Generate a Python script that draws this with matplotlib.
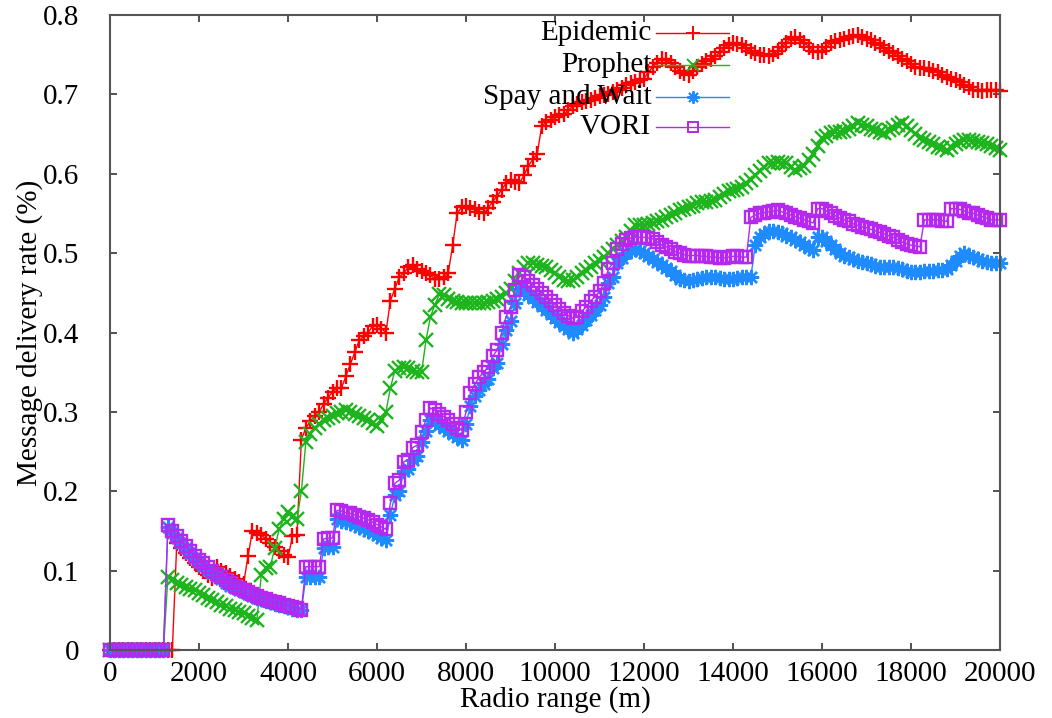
import numpy as np
import matplotlib
matplotlib.use("Agg")
import matplotlib.pyplot as plt

plt.rcParams['font.family'] = ['Liberation Serif', 'DejaVu Serif']

# Radio range grid (m)
radio_range = np.arange(0, 20001, 100)

epidemic = [
    0, 0, 0, 0, 0, 0, 0, 0, 0, 0,
    0, 0, 0, 0, 0, 0.135, 0.128, 0.122, 0.116, 0.110,
    0.105, 0.100, 0.095, 0.091, 0.104, 0.100, 0.097, 0.093, 0.090, 0.086,
    0.083, 0.118, 0.150, 0.148, 0.145, 0.140, 0.135, 0.130, 0.125, 0.120,
    0.117, 0.143, 0.145, 0.265, 0.280, 0.288, 0.295, 0.300, 0.310, 0.318,
    0.325, 0.330, 0.330, 0.345, 0.360, 0.375, 0.390, 0.395, 0.400, 0.408,
    0.410, 0.405, 0.400, 0.440, 0.455, 0.470, 0.475, 0.482, 0.485, 0.480,
    0.478, 0.475, 0.472, 0.468, 0.468, 0.470, 0.475, 0.510, 0.550, 0.558,
    0.560, 0.557, 0.555, 0.552, 0.550, 0.557, 0.565, 0.572, 0.580, 0.588,
    0.592, 0.590, 0.588, 0.598, 0.610, 0.618, 0.625, 0.660, 0.665, 0.668,
    0.672, 0.674, 0.675, 0.680, 0.685, 0.688, 0.690, 0.692, 0.693, 0.696,
    0.698, 0.699, 0.700, 0.703, 0.705, 0.708, 0.712, 0.714, 0.716, 0.718,
    0.720, 0.728, 0.735, 0.740, 0.745, 0.743, 0.740, 0.735, 0.730, 0.727,
    0.725, 0.730, 0.735, 0.738, 0.742, 0.745, 0.748, 0.753, 0.758, 0.762,
    0.765, 0.764, 0.762, 0.758, 0.755, 0.752, 0.750, 0.749, 0.748, 0.751,
    0.755, 0.760, 0.765, 0.770, 0.772, 0.768, 0.765, 0.760, 0.755, 0.754,
    0.755, 0.760, 0.765, 0.767, 0.768, 0.770, 0.772, 0.774, 0.775, 0.772,
    0.770, 0.768, 0.765, 0.762, 0.758, 0.755, 0.752, 0.748, 0.745, 0.742,
    0.738, 0.735, 0.733, 0.733, 0.732, 0.730, 0.728, 0.725, 0.722, 0.720,
    0.718, 0.715, 0.712, 0.709, 0.706, 0.705, 0.704, 0.705, 0.706, 0.705,
    0.704,
]

prophet = [
    0, 0, 0, 0, 0, 0, 0, 0, 0, 0,
    0, 0, 0, 0.092, 0.088, 0.085, 0.082, 0.080, 0.077, 0.075,
    0.072, 0.069, 0.066, 0.063, 0.060, 0.057, 0.055, 0.052, 0.050, 0.048,
    0.046, 0.043, 0.040, 0.038, 0.095, 0.103, 0.105, 0.128, 0.152, 0.165,
    0.174, 0.168, 0.165, 0.200, 0.262, 0.272, 0.280, 0.285, 0.290, 0.292,
    0.295, 0.298, 0.300, 0.302, 0.300, 0.297, 0.295, 0.292, 0.290, 0.286,
    0.282, 0.290, 0.300, 0.330, 0.352, 0.355, 0.357, 0.355, 0.352, 0.350,
    0.350, 0.390, 0.420, 0.435, 0.448, 0.447, 0.442, 0.440, 0.438, 0.437,
    0.437, 0.437, 0.437, 0.437, 0.437, 0.438, 0.440, 0.442, 0.445, 0.450,
    0.455, 0.465, 0.475, 0.482, 0.488, 0.487, 0.485, 0.484, 0.483, 0.479,
    0.475, 0.470, 0.466, 0.465, 0.466, 0.470, 0.475, 0.479, 0.483, 0.487,
    0.490, 0.495, 0.500, 0.505, 0.510, 0.515, 0.520, 0.528, 0.535, 0.536,
    0.536, 0.537, 0.538, 0.540, 0.542, 0.545, 0.548, 0.551, 0.554, 0.556,
    0.558, 0.560, 0.563, 0.564, 0.565, 0.566, 0.567, 0.571, 0.575, 0.578,
    0.580, 0.581, 0.583, 0.588, 0.592, 0.598, 0.603, 0.608, 0.613, 0.614,
    0.615, 0.614, 0.613, 0.609, 0.605, 0.607, 0.610, 0.617, 0.625, 0.635,
    0.645, 0.648, 0.651, 0.652, 0.652, 0.654, 0.656, 0.660, 0.664, 0.662,
    0.660, 0.657, 0.655, 0.653, 0.651, 0.655, 0.658, 0.661, 0.664, 0.660,
    0.655, 0.650, 0.645, 0.642, 0.640, 0.637, 0.634, 0.632, 0.630, 0.634,
    0.638, 0.640, 0.643, 0.642, 0.641, 0.640, 0.639, 0.637, 0.635, 0.632,
    0.630,
]

spray_and_wait = [
    0, 0, 0, 0, 0, 0, 0, 0, 0, 0,
    0, 0, 0, 0.155, 0.148, 0.141, 0.135, 0.128, 0.122, 0.116,
    0.111, 0.106, 0.101, 0.097, 0.093, 0.089, 0.085, 0.081, 0.078, 0.075,
    0.073, 0.070, 0.068, 0.066, 0.064, 0.062, 0.060, 0.058, 0.057, 0.055,
    0.054, 0.052, 0.051, 0.050, 0.092, 0.092, 0.092, 0.092, 0.128, 0.130,
    0.130, 0.165, 0.163, 0.161, 0.160, 0.157, 0.155, 0.152, 0.150, 0.147,
    0.145, 0.141, 0.138, 0.170, 0.195, 0.200, 0.225, 0.228, 0.240, 0.245,
    0.262, 0.276, 0.290, 0.287, 0.283, 0.280, 0.276, 0.272, 0.268, 0.265,
    0.285, 0.308, 0.320, 0.328, 0.335, 0.342, 0.355, 0.362, 0.385, 0.403,
    0.415, 0.437, 0.455, 0.452, 0.447, 0.443, 0.438, 0.433, 0.428, 0.423,
    0.418, 0.413, 0.408, 0.404, 0.400, 0.404, 0.410, 0.416, 0.422, 0.428,
    0.435, 0.445, 0.462, 0.470, 0.488, 0.494, 0.500, 0.503, 0.505, 0.503,
    0.500, 0.497, 0.493, 0.489, 0.485, 0.481, 0.478, 0.473, 0.468, 0.466,
    0.465, 0.466, 0.468, 0.469, 0.470, 0.470, 0.470, 0.469, 0.468, 0.468,
    0.468, 0.469, 0.470, 0.470, 0.470, 0.510, 0.520, 0.524, 0.528, 0.528,
    0.527, 0.525, 0.522, 0.520, 0.517, 0.514, 0.510, 0.507, 0.504, 0.520,
    0.520, 0.515, 0.510, 0.505, 0.500, 0.497, 0.495, 0.492, 0.490, 0.489,
    0.488, 0.486, 0.484, 0.483, 0.483, 0.483, 0.482, 0.481, 0.480, 0.478,
    0.476, 0.476, 0.476, 0.477, 0.478, 0.478, 0.479, 0.479, 0.480, 0.485,
    0.490, 0.496, 0.500, 0.497, 0.495, 0.492, 0.490, 0.489, 0.488, 0.488,
    0.487,
]

vori = [
    0, 0, 0, 0, 0, 0, 0, 0, 0, 0,
    0, 0, 0, 0.157, 0.150, 0.143, 0.137, 0.131, 0.125, 0.119,
    0.114, 0.109, 0.104, 0.100, 0.096, 0.092, 0.088, 0.084, 0.081, 0.078,
    0.076, 0.073, 0.071, 0.068, 0.066, 0.064, 0.062, 0.060, 0.059, 0.057,
    0.056, 0.054, 0.053, 0.051, 0.105, 0.105, 0.105, 0.105, 0.140, 0.141,
    0.141, 0.176, 0.175, 0.173, 0.172, 0.170, 0.168, 0.166, 0.164, 0.161,
    0.158, 0.155, 0.152, 0.185, 0.210, 0.214, 0.237, 0.240, 0.255, 0.258,
    0.275, 0.290, 0.305, 0.302, 0.297, 0.294, 0.290, 0.285, 0.280, 0.277,
    0.300, 0.324, 0.335, 0.344, 0.350, 0.357, 0.370, 0.378, 0.400, 0.420,
    0.432, 0.454, 0.472, 0.470, 0.465, 0.460, 0.455, 0.450, 0.445, 0.440,
    0.435, 0.430, 0.425, 0.421, 0.418, 0.420, 0.427, 0.432, 0.440, 0.445,
    0.452, 0.462, 0.480, 0.487, 0.505, 0.512, 0.517, 0.519, 0.520, 0.520,
    0.520, 0.519, 0.518, 0.514, 0.510, 0.508, 0.505, 0.502, 0.500, 0.498,
    0.497, 0.497, 0.497, 0.496, 0.496, 0.495, 0.495, 0.494, 0.494, 0.495,
    0.496, 0.496, 0.495, 0.495, 0.545, 0.548, 0.550, 0.551, 0.552, 0.553,
    0.554, 0.552, 0.550, 0.548, 0.546, 0.544, 0.542, 0.540, 0.538, 0.556,
    0.556, 0.553, 0.550, 0.547, 0.544, 0.542, 0.540, 0.537, 0.535, 0.533,
    0.532, 0.530, 0.528, 0.526, 0.524, 0.522, 0.520, 0.517, 0.514, 0.512,
    0.510, 0.509, 0.508, 0.542, 0.542, 0.542, 0.542, 0.541, 0.540, 0.556,
    0.556, 0.555, 0.553, 0.551, 0.550, 0.548, 0.546, 0.544, 0.542, 0.542,
    0.542,
]

series_names = ["Epidemic", "Prophet", "Spay and Wait", "VORI"]
series_values = [epidemic, prophet, spray_and_wait, vori]
colors = ["#ff0000", "#1eb41e", "#1e8cff", "#b428f0"]
markers = ["+", "x", (8, 2, 0), "s"]
msizes = [12, 10, 11, 9]
key_msizes = [10, 8, 9, 7.5]

x_ticks = list(range(0, 20001, 2000))
y_ticks = [0, 0.1, 0.2, 0.3, 0.4, 0.5, 0.6, 0.7, 0.8]
y_tick_labels = ["0", "0.1", "0.2", "0.3", "0.4", "0.5", "0.6", "0.7", "0.8"]

fig = plt.figure(figsize=(10.52, 7.18), dpi=100)
ax = fig.add_axes([0.1046, 0.0947, 0.8460, 0.8844])

for name, vals, c, m, ms in zip(series_names, series_values, colors, markers, msizes):
    ax.plot(radio_range, vals, color=c, lw=1.0, marker=m, ms=ms,
            mew=1.7, mfc='none', mec=c, clip_on=False)

ax.set_xlim(0, 20000)
ax.set_ylim(0, 0.8)
ax.set_xticks(x_ticks)
ax.set_xticklabels([str(t) for t in x_ticks])
ax.set_yticks(y_ticks)
ax.set_yticklabels(y_tick_labels)
ax.tick_params(axis='both', direction='in', length=5, width=1.2, colors='#333333',
               labelcolor='black', labelsize=21, top=True, right=True)
ax.tick_params(axis='x', pad=8)
ax.tick_params(axis='y', pad=22)
for s in ax.spines.values():
    s.set_color('#555555')
    s.set_linewidth(1.5)

ax.set_xlabel("Radio range (m)", fontsize=21, labelpad=-1)
ax.set_ylabel("Message delivery rate (%)", fontsize=21, labelpad=0)

# gnuplot-style key
key_text_x = 0.608
key_line = (0.6135, 0.6955)
key_rows = [0.9717, 0.9213, 0.8709, 0.8236]
for name, c, m, ms, ky in zip(series_names, colors, markers, key_msizes, key_rows):
    ax.text(key_text_x, ky, name, transform=ax.transAxes, ha='right', va='center',
            fontsize=21)
    ax.plot(list(key_line), [ky, ky], transform=ax.transAxes, color=c, lw=1.0,
            clip_on=False)
    ax.plot([sum(key_line) / 2], [ky], transform=ax.transAxes, color=c, marker=m,
            ms=ms, mew=1.4, mfc='none', mec=c, clip_on=False)

fig.savefig("out.png", dpi=100)
